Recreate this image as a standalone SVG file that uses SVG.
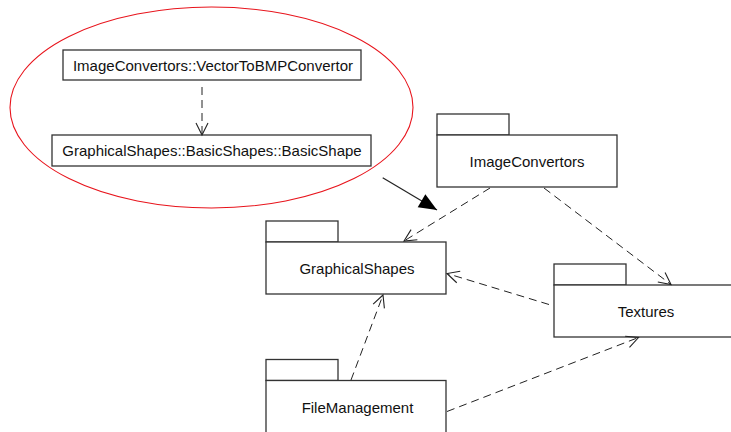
<svg xmlns="http://www.w3.org/2000/svg" width="731" height="432" viewBox="0 0 731 432">
  <style>
    .box { fill: #ffffff; stroke: #333333; stroke-width: 1.3; }
    .lbl { font-family: "Liberation Sans", Arial, sans-serif; font-size: 15px; fill: #111111; text-anchor: middle; }
    .dep { fill: none; stroke: #222222; stroke-width: 1; stroke-dasharray: 8 5; }
    .solid { fill: none; stroke: #222222; stroke-width: 1.2; }
  </style>
  <defs>
    <marker id="open" markerUnits="userSpaceOnUse" markerWidth="20" markerHeight="20" refX="0" refY="0" orient="auto" overflow="visible">
      <path d="M -12,-6 L 0,0 L -12,6" fill="none" stroke="#222222" stroke-width="1.1"/>
    </marker>
    <marker id="filled" markerUnits="userSpaceOnUse" markerWidth="20" markerHeight="20" refX="0" refY="0" orient="auto" overflow="visible">
      <path d="M -18,-7.5 L 0,0 L -18,7.5 Z" fill="#000000" stroke="none"/>
    </marker>
  </defs>

  <rect width="731" height="432" fill="#ffffff"/>

  <!-- highlighted detail view -->
  <g id="detail">
    <ellipse cx="211.5" cy="107.5" rx="201.5" ry="100.5" fill="none" stroke="#e8141c" stroke-width="1.1"/>
    <g id="vectorToBmp">
      <rect class="box" x="63" y="50" width="298" height="30"/>
      <text class="lbl" x="213" y="70.5">ImageConvertors::VectorToBMPConvertor</text>
    </g>
    <g id="basicShape">
      <rect class="box" x="52" y="135" width="319" height="31"/>
      <text class="lbl" x="212" y="156">GraphicalShapes::BasicShapes::BasicShape</text>
    </g>
  </g>

  <!-- packages -->
  <g id="imageConvertors">
    <rect class="box" x="437" y="114" width="72" height="21"/>
    <rect class="box" x="437" y="135" width="180" height="52"/>
    <text class="lbl" x="527" y="166.5">ImageConvertors</text>
  </g>
  <g id="graphicalShapes">
    <rect class="box" x="266" y="221" width="72" height="21"/>
    <rect class="box" x="266" y="242" width="180" height="52"/>
    <text class="lbl" x="357" y="274">GraphicalShapes</text>
  </g>
  <g id="textures">
    <rect class="box" x="554" y="264" width="72" height="21"/>
    <rect class="box" x="554" y="285" width="180" height="52"/>
    <text class="lbl" x="646" y="316.5">Textures</text>
  </g>
  <g id="fileManagement">
    <rect class="box" x="266" y="359.5" width="72" height="21"/>
    <rect class="box" x="266" y="380.5" width="180" height="60"/>
    <text class="lbl" x="357.5" y="412.5">FileManagement</text>
  </g>

  <!-- connectors -->
  <g id="connectors">
    <line class="dep" x1="202" y1="87" x2="202" y2="135" marker-end="url(#open)"/>
    <line class="solid" x1="382.7" y1="177.7" x2="437" y2="210" marker-end="url(#filled)"/>
    <line class="dep" x1="490" y1="188" x2="404" y2="241" marker-end="url(#open)"/>
    <line class="dep" x1="544" y1="188" x2="671" y2="284.5" marker-end="url(#open)"/>
    <line class="dep" x1="549" y1="304.5" x2="447" y2="273.5" marker-end="url(#open)"/>
    <line class="dep" x1="351" y1="380" x2="383" y2="295" marker-end="url(#open)"/>
    <line class="dep" x1="447" y1="411.5" x2="638.5" y2="337.5" marker-end="url(#open)"/>
  </g>
</svg>
